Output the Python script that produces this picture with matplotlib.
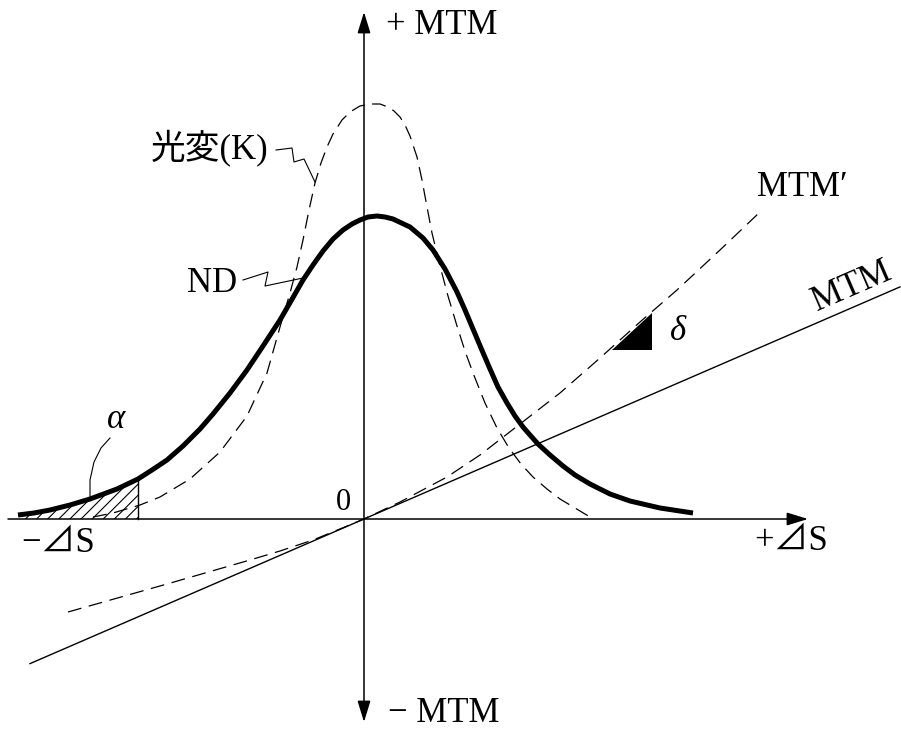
import numpy as np
import matplotlib
matplotlib.use("Agg")
import matplotlib.pyplot as plt

plt.rcParams['lines.scale_dashes'] = False
plt.rcParams['hatch.linewidth'] = 0.8

SERIF = ['Liberation Serif', 'Noto Sans CJK JP', 'DejaVu Sans']

# Normal distribution curve (ND)
nd_x = [-346, -330, -314, -294, -274, -247, -226, -212, -197, -181, -164, -151,
        -134, -117, -101, -84, -73, -61, -51, -41, -31, -21, -12, -4, 4, 13,
        21, 29, 46, 59, 69, 81, 93, 101, 109, 117, 126, 134, 143, 151, 159,
        166, 174, 186, 199, 211, 226, 246, 266, 296, 329]
nd_y = [4, 6, 9, 14, 20, 30, 40, 49, 59, 73, 90, 105,
        126, 149, 173, 199, 218, 239, 254, 268, 280, 289, 295, 299, 302, 303,
        302, 300, 292, 281, 269, 250, 227, 209, 190, 171, 150, 132, 116, 103, 92,
        84, 75, 64, 53, 44, 35, 25, 18, 11, 6]

# Light-variation curve (K)
k_x = [-271, -251, -224, -204, -174, -144, -117, -97, -84, -74, -67, -61, -55,
       -49, -43, -37, -31, -22, -14, -4, 6, 16, 24, 30, 36, 41, 46, 53, 58, 63,
       68, 76, 84, 93, 101, 109, 121, 133, 145, 157, 169, 183, 196, 211, 226]
k_y = [2, 6, 14, 22, 40, 67, 103, 146, 192, 226, 252, 279, 309,
       336, 356, 372, 385, 399, 407, 413, 415, 415, 412, 408, 402, 394, 383, 362, 339, 312,
       286, 253, 223, 193, 168, 146, 116, 91, 71, 55, 42, 30, 20, 11, 2]

# MTM' curve
mtm2_x = [-296, -197, -114, -84, -51, -24, 0, 36, 83, 116, 156, 196, 236, 276, 313, 356, 396]
mtm2_y = [-93, -65, -41, -32, -21, -10, 0, 17, 42, 64, 95, 126, 161, 197, 229, 269, 307]

# MTM straight line through the origin
mtm_x = [-334, 536]
mtm_slope = 0.433

# delta wedge sitting on MTM'
delta_x = [248, 288, 288]
delta_y = [169, 206, 169]

# leader lines for the labels
k_lead_x = [-88, -72, -70, -60, -49]
k_lead_y = [369, 371, 357, 360, 337]
nd_lead_x = [-121, -96, -99, -61]
nd_lead_y = [239, 247, 233, 241]
a_lead_x = [-254, -263, -270, -274, -274]
a_lead_y = [81, 71, 57, 39, 19]

# shaded tail boundary
alpha_cut = -226

fig = plt.figure(figsize=(9.01, 7.33), dpi=100)
ax = fig.add_axes([0, 0, 1, 1])
ax.set_xlim(-364, 537)
ax.set_ylim(-214, 519)
ax.axis('off')

# axes with arrows
ax.annotate('', xy=(444, 0), xytext=(-356, 0),
            arrowprops=dict(arrowstyle='-|>,head_length=0.65,head_width=0.2',
                            lw=1.1, color='black', shrinkA=0, shrinkB=0,
                            mutation_scale=20))
ax.annotate('', xy=(0, 507), xytext=(0, -203),
            arrowprops=dict(arrowstyle='<|-|>,head_length=0.65,head_width=0.2',
                            lw=1.1, color='black', shrinkA=0, shrinkB=0,
                            mutation_scale=20))

# hatched tail alpha
nx = np.array(nd_x)
ny = np.array(nd_y)
m = nx <= alpha_cut
ax.fill_between(nx[m], ny[m], 0, facecolor='none', edgecolor='black',
                hatch='///', linewidth=0)
ax.plot([alpha_cut, alpha_cut], [0, ny[nx == alpha_cut][0]], color='black', lw=1.0)

# MTM line
mx = np.array(mtm_x)
ax.plot(mx, mtm_slope * mx, color='black', lw=1.0)

# MTM' dashed
ax.plot(mtm2_x, mtm2_y, color='black', lw=0.9, linestyle=(0, (10, 5.5)))

# K dashed
ax.plot(k_x, k_y, color='black', lw=0.9, linestyle=(0, (10, 5.5)))

# ND thick
ax.plot(nd_x, nd_y, color='black', lw=3.6, solid_capstyle='butt', solid_joinstyle='round')

# delta wedge
ax.fill(delta_x, delta_y, color='black', lw=0)

# leaders
ax.plot(k_lead_x, k_lead_y, color='black', lw=0.8)
ax.plot(nd_lead_x, nd_lead_y, color='black', lw=0.8)
ax.plot(a_lead_x, a_lead_y, color='black', lw=0.8)

fs = 25
ax.text(22, 494, '+ MTM', family=SERIF, fontsize=fs, ha='left', va='center')
ax.text(24, -195, '− MTM', family=SERIF, fontsize=fs, ha='left', va='center')
ax.text(427, -23, '+⊿S', family=SERIF, fontsize=fs, ha='center', va='center')
ax.text(-306, -25, '−⊿S', family=SERIF, fontsize=fs, ha='center', va='center')
ax.text(-21, 17, '0', family=SERIF, fontsize=22, ha='center', va='center')
ax.text(-152, 236, 'ND', family=SERIF, fontsize=fs, ha='center', va='center')
ax.text(-154, 371, '光変(K)', family=SERIF, fontsize=fs, ha='center', va='center')
ax.text(438, 332, 'MTM′', family=SERIF, fontsize=fs, ha='center', va='center')
ax.text(488, 232, 'MTM', family=SERIF, fontsize=fs, ha='center', va='center',
        rotation=23.4, rotation_mode='anchor')
ax.text(-248, 99, 'α', family=SERIF, fontsize=fs, style='italic', ha='center', va='center')
ax.text(314, 187, 'δ', family=SERIF, fontsize=fs, style='italic', ha='center', va='center')

fig.savefig('out.png', dpi=100)
